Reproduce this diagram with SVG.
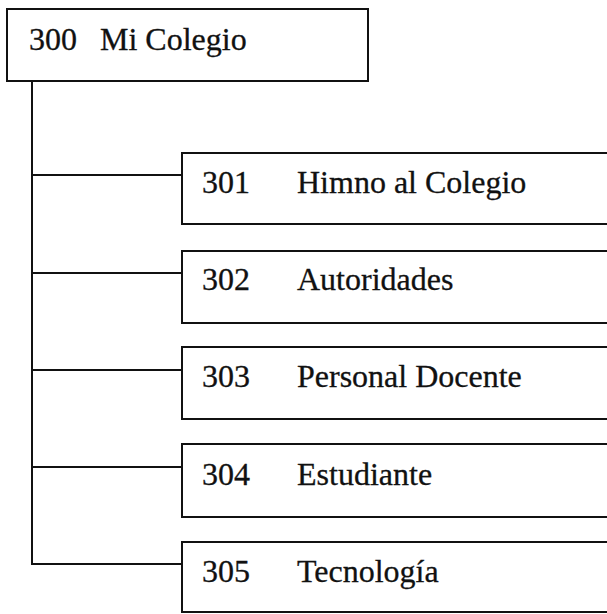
<svg xmlns="http://www.w3.org/2000/svg" width="607" height="614" viewBox="0 0 607 614">
<style>
.box{fill:#fff;stroke:#111;stroke-width:2}
.ln{fill:none;stroke:#111;stroke-width:2}
text{font-family:"Liberation Serif","Times New Roman",serif;font-size:32px;fill:#111;stroke:#111;stroke-width:0.3}
</style>
<rect width="607" height="614" fill="#fff"/>
<g id="connectors">
<path class="ln" d="M32 81V564H182"/>
<path class="ln" d="M32 175H182M32 273H182M32 370H182M32 467H182"/>
</g>
<g id="n300"><rect class="box" x="7" y="9" width="361" height="72"/><text x="29" y="50">300</text><text x="100" y="50">Mi Colegio</text></g>
<g id="n301"><rect class="box" x="182" y="153" width="440" height="71"/><text x="202" y="193">301</text><text x="297" y="193">Himno al Colegio</text></g>
<g id="n302"><rect class="box" x="182" y="251" width="440" height="72"/><text x="202" y="290">302</text><text x="297" y="290">Autoridades</text></g>
<g id="n303"><rect class="box" x="182" y="347" width="440" height="72"/><text x="202" y="387">303</text><text x="297" y="387">Personal Docente</text></g>
<g id="n304"><rect class="box" x="182" y="444" width="440" height="73"/><text x="202" y="485">304</text><text x="297" y="485">Estudiante</text></g>
<g id="n305"><rect class="box" x="182" y="542" width="440" height="70"/><text x="202" y="582">305</text><text x="297" y="582">Tecnología</text></g>
</svg>
